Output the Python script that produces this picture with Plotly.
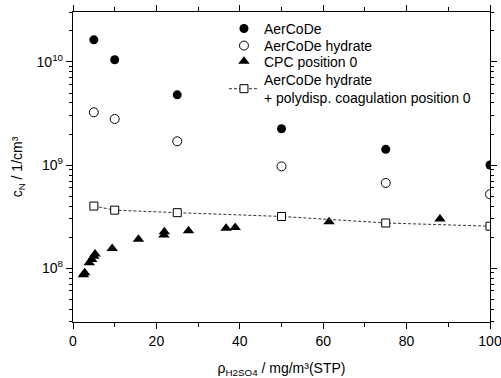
import plotly.graph_objects as go

# ---- data ----
aer_x = [5, 10, 25, 50, 75, 100]
aer_y = [1.64e10, 1.05e10, 4.8e9, 2.25e9, 1.42e9, 1.0e9]

hyd_x = [5, 10, 25, 50, 75, 100]
hyd_y = [3.25e9, 2.8e9, 1.7e9, 9.7e8, 6.7e8, 5.2e8]

cpc_x = [2.5, 2.8, 3.9, 4.5, 5.0, 5.3, 9.4, 15.7, 21.8, 21.9, 27.7, 36.7, 38.9, 61.4, 88.0]
cpc_y = [8.6e7, 9.0e7, 1.13e8, 1.21e8, 1.3e8, 1.37e8, 1.55e8, 1.9e8, 2.1e8, 2.25e8, 2.3e8, 2.43e8, 2.48e8, 2.82e8, 3.0e8]

coag_x = [5, 10, 25, 50, 75, 100]
coag_y = [4.0e8, 3.65e8, 3.45e8, 3.17e8, 2.74e8, 2.55e8]

ytick_vals = [1e8, 1e9, 1e10]
ytick_text = ["10<sup>8</sup>", "10<sup>9</sup>", "10<sup>10</sup>"]
yminor_vals = [m * 10 ** e for e in [7, 8, 9, 10] for m in range(2, 10)]

FONT = "Liberation Sans, Arial, sans-serif"

fig = go.Figure()
fig.add_trace(go.Scatter(x=aer_x, y=aer_y, mode="markers", name="AerCoDe", legend="legend",
                         marker=dict(symbol="circle", size=9, color="black")))
fig.add_trace(go.Scatter(x=hyd_x, y=hyd_y, mode="markers", name="AerCoDe hydrate", legend="legend2",
                         marker=dict(symbol="circle", size=9, color="white",
                                     line=dict(color="black", width=1))))
fig.add_trace(go.Scatter(x=cpc_x, y=cpc_y, mode="markers", name="CPC position 0", legend="legend3",
                         marker=dict(symbol="triangle-up", size=10, color="black")))
fig.add_trace(go.Scatter(x=coag_x, y=coag_y, mode="lines+markers", legend="legend4",
                         name="AerCoDe hydrate<br>+ polydisp. coagulation position 0",
                         line=dict(color="#333333", width=1, dash="3px,2px"),
                         marker=dict(symbol="square", size=8, color="white",
                                     line=dict(color="black", width=1))))

axis_common = dict(showline=True, linecolor="black", linewidth=1.3, mirror="ticks",
                   ticks="outside", ticklen=6, tickwidth=1.2, tickcolor="black",
                   showgrid=False, zeroline=False, automargin=False,
                   ticklabeloverflow="allow",
                   tickfont=dict(family=FONT, size=14, color="black"))

fig.update_xaxes(range=[0, 100], tickvals=[0, 20, 40, 60, 80, 100],
                 minor=dict(tickvals=[10, 30, 50, 70, 90], ticks="outside", ticklen=4,
                            tickcolor="black", tickwidth=1),
                 title=dict(text="ρ<sub>H2SO4</sub> / mg/m³(STP)",
                            font=dict(family=FONT, size=14, color="black"), standoff=17),
                 **axis_common)
fig.update_yaxes(type="log", range=[7.477, 10.485], tickvals=ytick_vals, ticktext=ytick_text,
                 minor=dict(tickvals=yminor_vals, ticks="outside", ticklen=3,
                            tickcolor="black", tickwidth=1),
                 title=dict(text="c<sub>N</sub> / 1/cm³",
                            font=dict(family=FONT, size=14, color="black"), standoff=10),
                 **axis_common)

legend_common = dict(x=0.362, xanchor="left", yanchor="top", bgcolor="rgba(0,0,0,0)",
                     font=dict(family=FONT, size=14, color="black"))

fig.update_layout(width=501, height=378,
                  margin=dict(l=73, r=11, t=12, b=56, autoexpand=False),
                  plot_bgcolor="white", paper_bgcolor="white",
                  font=dict(family=FONT, size=14, color="black"),
                  legend=dict(y=0.997, **legend_common),
                  legend2=dict(y=0.942, **legend_common),
                  legend3=dict(y=0.8915, **legend_common),
                  legend4=dict(y=0.8323, **legend_common),
                  showlegend=True)

fig.write_html("out.html",
               config={"displayModeBar": False},
               post_script="document.body.style.margin='0';document.body.style.overflow='hidden';")
